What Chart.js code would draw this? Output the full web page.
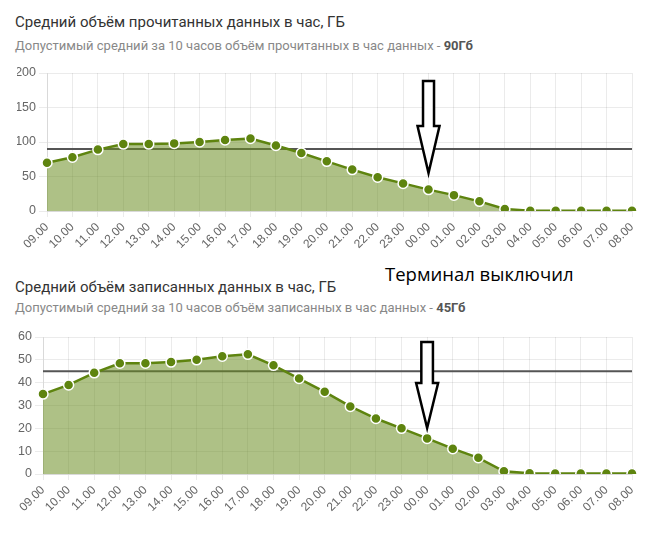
<!DOCTYPE html>
<html>
<head>
<meta charset="utf-8">
<script src="https://cdn.jsdelivr.net/npm/chart.js@4.4.0/dist/chart.umd.min.js"></script>
<style>
  body { margin: 0; background: #fff; width: 656px; height: 534px; overflow: hidden; position: relative; font-family: Roboto, sans-serif; }
  .title { position: absolute; left: 15px; font-size: 15px; color: #333; white-space: nowrap; }
  .sub { position: absolute; left: 15px; font-size: 13px; color: #888; white-space: nowrap; }
  .sub b { color: #555; }
  .note { position: absolute; left: 385px; top: 261px; font-family: "Open Sans", sans-serif; font-size: 18.5px; color: #000; white-space: nowrap; }
  canvas { position: absolute; left: 0; }
</style>
</head>
<body>
<div class="title" style="top:13px">Средний объём прочитанных данных в час, ГБ</div>
<div class="sub" style="top:38px">Допустимый средний за 10 часов объём прочитанных в час данных - <b>90Гб</b></div>
<canvas id="readChart" width="656" height="196" style="top:60px"></canvas>

<div class="note">Терминал выключил</div>
<div class="title" style="top:278px">Средний объём записанных данных в час, ГБ</div>
<div class="sub" style="top:300px">Допустимый средний за 10 часов объём записанных в час данных - <b>45Гб</b></div>
<canvas id="writeChart" width="656" height="194" style="top:325px"></canvas>

<script>
const hours = ["09.00","10.00","11.00","12.00","13.00","14.00","15.00","16.00","17.00","18.00","19.00","20.00",
  "21.00","22.00","23.00","00.00","01.00","02.00","03.00","04.00","05.00","06.00","07.00","08.00"];

const readValues = [70, 78, 89, 97, 97, 98, 100, 103, 105, 95, 84, 72,
  60, 49, 40, 31, 23, 14, 3, 0.5, 0.5, 0.5, 0.5, 0.5];
const readLimit = 90;
const readTicks = [0, 50, 100, 150, 200];

const writeValues = [35, 39, 44.3, 48.5, 48.5, 49, 50, 51.6, 52.4, 47.6, 41.8, 36,
  29.6, 24.3, 20, 15.6, 11.1, 7.1, 1.2, 0.3, 0.2, 0.2, 0.2, 0.2];
const writeLimit = 45;
const writeTicks = [0, 10, 20, 30, 40, 50, 60];

// hollow arrow pointing at the "terminal switched off" hour
const arrowPlugin = {
  id: 'arrow',
  afterDatasetsDraw(chart, args, opts) {
    const ctx = chart.ctx;
    const x = chart.scales.x.getPixelForValue(opts.at);
    const top = chart.chartArea.top;
    const y0 = top + opts.top, y1 = top + opts.head, y2 = top + opts.tip;
    ctx.save();
    ctx.beginPath();
    ctx.moveTo(x - opts.shaft, y0);
    ctx.lineTo(x + opts.shaft, y0);
    ctx.lineTo(x + opts.shaft, y1);
    ctx.lineTo(x + opts.wing, y1);
    ctx.lineTo(x, y2);
    ctx.lineTo(x - opts.wing, y1);
    ctx.lineTo(x - opts.shaft, y1);
    ctx.closePath();
    ctx.fillStyle = '#fff';
    ctx.fill();
    ctx.lineWidth = 2.5;
    ctx.strokeStyle = '#000';
    ctx.stroke();
    ctx.restore();
  }
};

function makeChart(id, values, limit, ticks, padLeft, padTop, arrow) {
  return new Chart(id, {
    type: 'line',
    data: {
      labels: hours,
      datasets: [{
        data: values,
        borderColor: '#5e840f',
        backgroundColor: 'rgba(107,142,35,0.55)',
        borderWidth: 2.5,
        fill: 'origin',
        tension: 0,
        pointRadius: 5,
        pointBackgroundColor: '#5e840f',
        pointBorderColor: '#fff',
        pointBorderWidth: 1.5
      }, {
        data: hours.map(() => limit),
        borderColor: '#555',
        borderWidth: 2,
        pointRadius: 0,
        fill: false
      }]
    },
    options: {
      responsive: false,
      animation: false,
      devicePixelRatio: 1,
      layout: { padding: { left: padLeft, right: 24, top: padTop, bottom: 0 } },
      plugins: { legend: { display: false }, tooltip: { enabled: false }, arrow: arrow },
      scales: {
        x: {
          grid: { color: 'rgba(0,0,0,0.08)', tickLength: 6 },
          border: { color: 'rgba(0,0,0,0.08)' },
          ticks: { autoSkip: false, minRotation: 45, maxRotation: 45, color: '#666', font: { family: 'Arial', size: 12 }, padding: 3 },
          afterFit: s => { s.height = 45; }
        },
        y: {
          min: ticks[0],
          max: ticks[ticks.length - 1],
          afterBuildTicks: s => { s.ticks = ticks.map(v => ({ value: v })); },
          grid: { color: 'rgba(0,0,0,0.08)', tickLength: 8 },
          border: { color: 'rgba(0,0,0,0.08)' },
          ticks: { color: '#666', font: { family: 'Arial', size: 12.5 }, padding: 3 },
          afterFit: s => { s.width = 30; }
        }
      }
    },
    plugins: [arrowPlugin]
  });
}

makeChart('readChart', readValues, readLimit, readTicks, 17, 13,
  { at: '00.00', top: 8, head: 53, tip: 100, shaft: 5.5, wing: 11 });
makeChart('writeChart', writeValues, writeLimit, writeTicks, 13, 12,
  { at: '00.00', top: 5, head: 46, tip: 91, shaft: 5.8, wing: 11 });
</script>
</body>
</html>
